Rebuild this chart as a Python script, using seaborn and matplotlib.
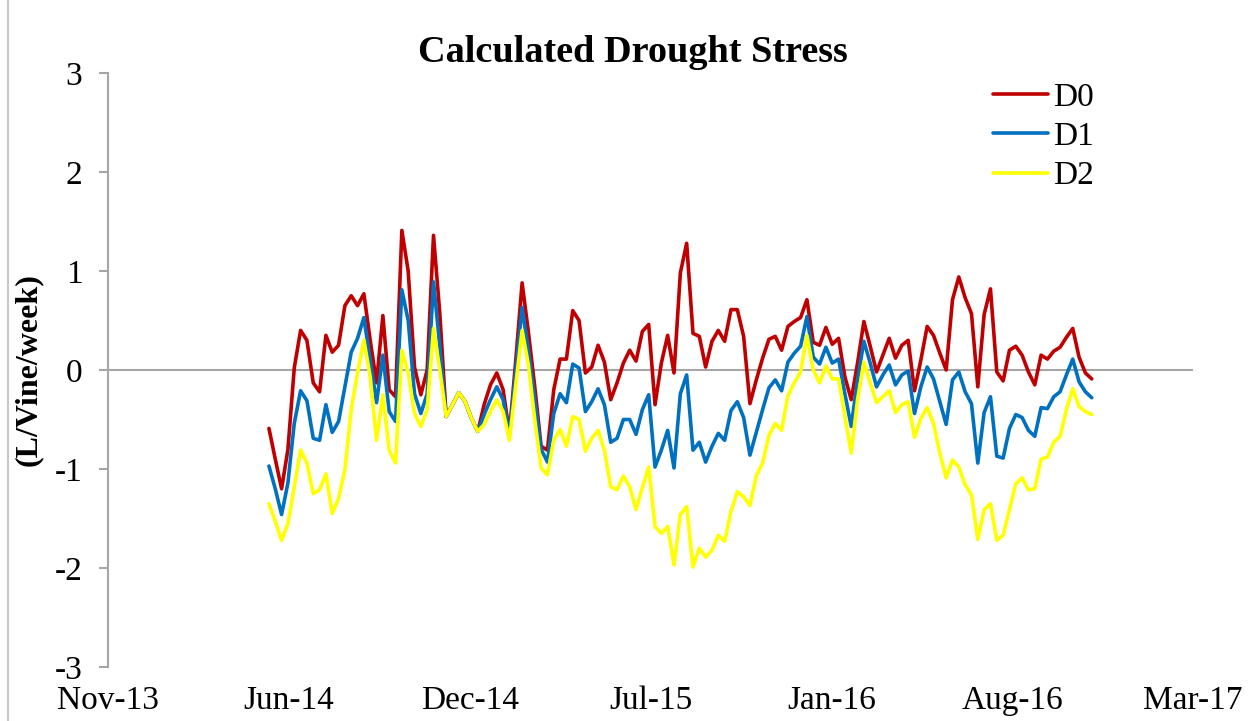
import matplotlib
matplotlib.use("Agg")
from matplotlib import pyplot as plt
import matplotlib.dates as mdates
import numpy as np
import pandas as pd
import seaborn as sns

# weekly readings, Jun-14 .. Nov-16 (L/Vine/week)
start_date = "2014-05-19"
n_weeks = 131

d0 = [-0.59, -0.90, -1.20, -0.80, 0.02, 0.40, 0.30, -0.13, -0.22, 0.35,
      0.18, 0.25, 0.65, 0.75, 0.65, 0.77, 0.30, -0.13, 0.55, -0.20,
      -0.27, 1.41, 1.00, 0.03, -0.25, 0.00, 1.36, 0.57, -0.47, -0.35,
      -0.23, -0.32, -0.49, -0.62, -0.35, -0.15, -0.03, -0.20, -0.64, 0.10,
      0.88, 0.38, -0.17, -0.77, -0.81, -0.20, 0.11, 0.11, 0.60, 0.50,
      -0.03, 0.03, 0.25, 0.08, -0.30, -0.13, 0.07, 0.20, 0.09, 0.39,
      0.46, -0.35, 0.07, 0.35, -0.03, 0.98, 1.28, 0.37, 0.34, 0.03,
      0.29, 0.40, 0.29, 0.61, 0.61, 0.34, -0.34, -0.10, 0.12, 0.31,
      0.34, 0.20, 0.44, 0.49, 0.53, 0.71, 0.28, 0.25, 0.43, 0.26,
      0.32, -0.07, -0.30, 0.07, 0.49, 0.24, -0.02, 0.15, 0.32, 0.12,
      0.25, 0.30, -0.21, 0.10, 0.44, 0.35, 0.17, 0.00, 0.71, 0.94,
      0.73, 0.57, -0.17, 0.56, 0.82, -0.02, -0.11, 0.20, 0.24, 0.15,
      -0.02, -0.15, 0.15, 0.11, 0.19, 0.23, 0.33, 0.42, 0.13, -0.03,
      -0.09]

d1 = [-0.97, -1.20, -1.46, -1.14, -0.54, -0.21, -0.31, -0.69, -0.71, -0.35,
      -0.63, -0.52, -0.17, 0.18, 0.32, 0.53, 0.10, -0.33, 0.15, -0.42,
      -0.52, 0.81, 0.50, -0.24, -0.44, -0.24, 0.89, 0.24, -0.47, -0.35,
      -0.23, -0.32, -0.49, -0.62, -0.45, -0.30, -0.17, -0.30, -0.66, 0.00,
      0.63, 0.20, -0.30, -0.80, -0.93, -0.44, -0.24, -0.33, 0.06, 0.02,
      -0.42, -0.32, -0.19, -0.35, -0.73, -0.69, -0.50, -0.50, -0.65, -0.40,
      -0.25, -0.98, -0.81, -0.61, -0.99, -0.24, -0.05, -0.81, -0.73, -0.93,
      -0.77, -0.64, -0.71, -0.41, -0.32, -0.48, -0.86, -0.63, -0.40, -0.18,
      -0.10, -0.21, 0.08, 0.17, 0.24, 0.54, 0.13, 0.06, 0.23, 0.07,
      0.11, -0.24, -0.57, -0.10, 0.29, 0.07, -0.17, -0.05, 0.05, -0.15,
      -0.05, -0.01, -0.44, -0.17, 0.03, -0.09, -0.32, -0.55, -0.10, -0.02,
      -0.22, -0.34, -0.94, -0.43, -0.27, -0.87, -0.89, -0.59, -0.45, -0.48,
      -0.61, -0.67, -0.38, -0.39, -0.27, -0.22, -0.05, 0.11, -0.12, -0.22,
      -0.28]

d2 = [-1.35, -1.53, -1.72, -1.55, -1.18, -0.81, -0.94, -1.25, -1.21, -1.05,
      -1.45, -1.30, -1.01, -0.40, -0.03, 0.30, -0.07, -0.71, -0.25, -0.81,
      -0.94, 0.20, -0.03, -0.44, -0.57, -0.40, 0.42, 0.00, -0.47, -0.35,
      -0.23, -0.32, -0.49, -0.62, -0.55, -0.42, -0.30, -0.42, -0.71, -0.15,
      0.40, 0.05, -0.50, -0.99, -1.06, -0.71, -0.60, -0.77, -0.47, -0.50,
      -0.82, -0.69, -0.61, -0.81, -1.18, -1.21, -1.07, -1.18, -1.41, -1.19,
      -0.98, -1.58, -1.65, -1.58, -1.97, -1.46, -1.38, -1.99, -1.80, -1.89,
      -1.82, -1.67, -1.73, -1.43, -1.23, -1.28, -1.37, -1.07, -0.94, -0.66,
      -0.54, -0.61, -0.26, -0.13, -0.02, 0.35, 0.00, -0.13, 0.04, -0.09,
      -0.09, -0.47, -0.84, -0.30, 0.08, -0.13, -0.33, -0.27, -0.21, -0.43,
      -0.35, -0.32, -0.68, -0.49, -0.38, -0.54, -0.84, -1.09, -0.91, -0.98,
      -1.16, -1.26, -1.71, -1.41, -1.35, -1.72, -1.67, -1.41, -1.15, -1.09,
      -1.21, -1.20, -0.90, -0.88, -0.73, -0.67, -0.40, -0.19, -0.37, -0.42,
      -0.45]

series_names = ["D0", "D1", "D2"]
colors = ["#C00000", "#0070C0", "#FFFF00"]

# Excel style date axis: min 41600, major unit 200 days
tick_dates = pd.to_datetime(["2013-11-22", "2014-06-10", "2014-12-27", "2015-07-15",
                             "2016-01-31", "2016-08-18", "2017-03-06"])
y_ticks = [-3, -2, -1, 0, 1, 2, 3]

dates = pd.date_range(start_date, periods=n_weeks, freq="7D")
df = pd.DataFrame({"date": np.tile(dates, 3),
                   "value": np.concatenate([d0, d1, d2]),
                   "series": np.repeat(series_names, n_weeks)})

sns.set_style("white")
plt.rcParams["font.family"] = ["Liberation Serif", "DejaVu Serif"]
plt.rcParams["axes.unicode_minus"] = False
plt.rcParams["text.color"] = "black"
plt.rcParams["axes.labelcolor"] = "black"

fig = plt.figure(figsize=(12.55, 7.21), dpi=100)
ax = fig.add_axes([108 / 1255, 1 - 667 / 721, (1193 - 108) / 1255, (667 - 73) / 721])

sns.lineplot(data=df, x="date", y="value", hue="series",
             palette=dict(zip(series_names, colors)), linewidth=2.6,
             ax=ax, legend=True)

ax.axhline(0, color="#A6A6A6", linewidth=1.5, zorder=0)
ax.set_xlim(tick_dates[0], tick_dates[-1])
ax.set_ylim(-3, 3)
ax.set_xticks(tick_dates)
ax.xaxis.set_major_formatter(mdates.DateFormatter("%b-%y"))
ax.set_yticks(y_ticks)
ax.tick_params(axis="x", length=0, pad=13, labelsize=24, labelcolor="black")
ax.tick_params(axis="y", length=6.5, width=1.5, color="#A6A6A6",
               direction="out", left=True, pad=12, labelsize=24, labelcolor="black")
for s in ["top", "right", "bottom"]:
    ax.spines[s].set_visible(False)
ax.spines["left"].set_color("#A6A6A6")
ax.spines["left"].set_linewidth(1.5)

ax.set_xlabel("")
ax.set_ylabel("(L/Vine/week)", fontsize=23, fontweight="bold", labelpad=8)
ax.set_title("Calculated Drought Stress", fontsize=27.5, fontweight="bold", pad=8,
             x=(633 - 108) / 1085)

ax.legend(loc="upper left", bbox_to_anchor=(993 / 1255, 1 - 82 / 721),
          bbox_transform=fig.transFigure, frameon=False, fontsize=24,
          handlelength=1.65, handletextpad=0.15, labelspacing=0.27,
          borderaxespad=0, borderpad=0)

fig.add_artist(plt.Line2D([8 / 1255, 8 / 1255], [0, 1], color="#C8C8C8",
                          linewidth=1.5, transform=fig.transFigure))

fig.savefig("out.png", dpi=100)
